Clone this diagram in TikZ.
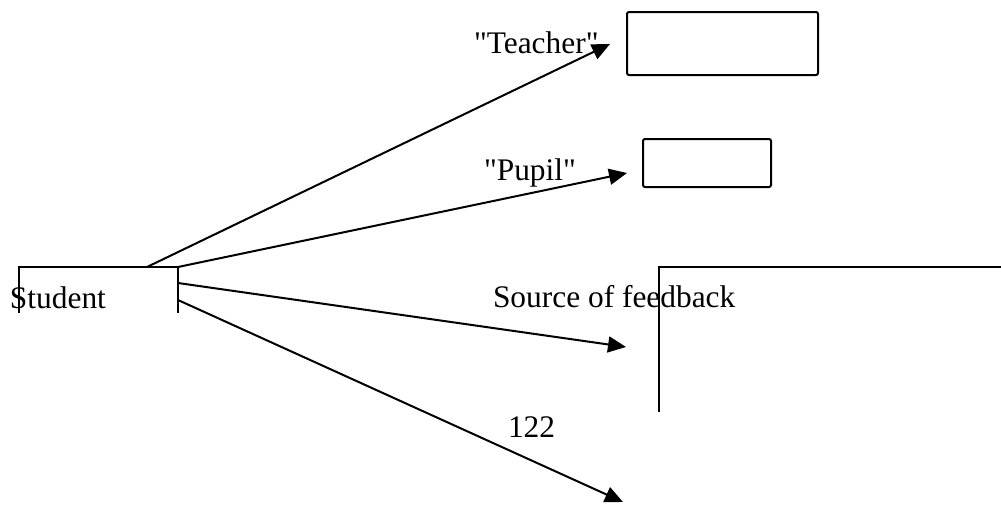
\documentclass[tikz,border=0pt]{standalone}
\usepackage{fontspec}
\setmainfont{Liberation Serif}
\newfontfamily\plainquotes{Liberation Serif}
\usetikzlibrary{arrows.meta}
\begin{document}
\begin{tikzpicture}[x=0.5pt,y=-0.5pt,line width=1pt,
    font=\fontsize{15.7}{19}\selectfont,
    lbl/.style={anchor=base west,inner sep=0pt},
    box/.style={draw,rounded corners=1pt,inner sep=0pt},
    arr/.style={-{Triangle[length=9pt,width=8pt]}}]
\useasboundingbox (0,0) rectangle (1001,504);
% boxes on the right
\node[box,minimum width=95.5pt,minimum height=31.5pt] (teacherbox) at (722.5,43.5) {};
\node[box,minimum width=64pt,minimum height=24pt] (pupilbox) at (707,163) {};
% open frames
\draw (19,313) -- (19,267) -- (178,267) -- (178,313);
\draw (659,412) -- (659,267) -- (1001,267);
% labels
\node[lbl,font=\fontsize{15.7}{19}\plainquotes] (teacher) at (473,53) {"Teacher"};
\node[lbl,font=\fontsize{15.7}{19}\plainquotes] (pupil) at (483,180) {"Pupil"};
\node[lbl] (student) at (9,308) {Student};
\node[lbl] (source) at (492,307) {Source of feedback};
\node[lbl] (page) at (507,437) {122};
% arrow ends
\coordinate (s1) at (147,267);
\coordinate (s2) at (178,267);
\coordinate (s3) at (178,283);
\coordinate (s4) at (178,300);
\coordinate (t1) at (610,44);
\coordinate (t2) at (627,173);
\coordinate (t3) at (626,347);
\coordinate (t4) at (623,502);
\draw[arr] (s1) -- (t1);
\draw[arr] (s2) -- (t2);
\draw[arr] (s3) -- (t3);
\draw[arr] (s4) -- (t4);
\end{tikzpicture}
\end{document}
